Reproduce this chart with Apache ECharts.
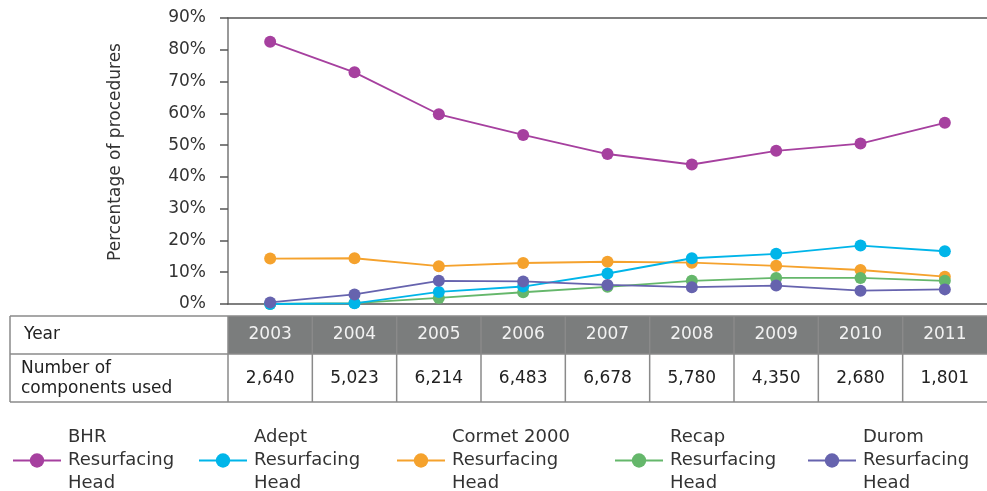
<!DOCTYPE html>
<html><head><meta charset="utf-8">
<script src="https://cdn.jsdelivr.net/npm/echarts@6/dist/echarts.min.js"></script>
<style>html,body{margin:0;padding:0;background:#fff}#c{width:987px;height:491px}</style>
</head><body><div id="c"></div>
<script>
const years = ['2003','2004','2005','2006','2007','2008','2009','2010','2011'];
const components = [2640, 5023, 6214, 6483, 6678, 5780, 4350, 2680, 1801];
const bhr    = [82.5, 72.9, 59.7, 53.2, 47.2, 43.9, 48.2, 50.5, 57.0];
const adept  = [0, 0.2, 3.8, 5.5, 9.6, 14.4, 15.8, 18.4, 16.6];
const cormet = [14.3, 14.4, 11.9, 12.9, 13.3, 13.0, 12.0, 10.7, 8.6];
const recap  = [0, 0.3, 1.9, 3.7, 5.4, 7.3, 8.2, 8.2, 7.3];
const durom  = [0.5, 3.0, 7.3, 7.1, 6.0, 5.3, 5.8, 4.2, 4.6];
const yTicks = [0, 10, 20, 30, 40, 50, 60, 70, 80, 90];
const names = ['BHR\nResurfacing\nHead','Adept\nResurfacing\nHead','Cormet 2000\nResurfacing\nHead','Recap\nResurfacing\nHead','Durom\nResurfacing\nHead'];
const colors = ['#a6409f','#00b5e9','#f5a22d','#65b76b','#6663ae'];
const seriesData = [bhr, adept, cormet, recap, durom];
const zs = [2, 5, 3, 4, 6];
const legendLeft = [12, 198, 396, 614, 807];

const FONT = '"DejaVu Sans", "Liberation Sans", Arial, sans-serif';
const chart = echarts.init(document.getElementById('c'), null, {renderer:'canvas'});

const option = {
  animation: false,
  backgroundColor: '#fff',
  textStyle: {fontFamily: FONT},
  grid: {left: 228, top: 18, width: 772, height: 286, containLabel: false},
  xAxis: [
    {type:'category', data: years, boundaryGap: true, position:'bottom',
     axisLine:{show:true, lineStyle:{color:'#555', width:1.5}},
     axisTick:{show:false}, axisLabel:{show:false}, splitLine:{show:false}},
    {type:'category', data: years, boundaryGap: true, position:'top',
     axisLine:{show:true, lineStyle:{color:'#555', width:1.5}},
     axisTick:{show:false}, axisLabel:{show:false}, splitLine:{show:false}}
  ],
  yAxis: {
    type:'value', min: yTicks[0], max: yTicks[yTicks.length-1], interval: 10,
    name: 'Percentage of procedures', nameLocation:'middle', nameGap: 104,
    nameTextStyle:{fontSize:17, color:'#333', fontFamily: FONT, padding:[0,0,0,18]},
    axisLine:{show:true, lineStyle:{color:'#777', width:1.5}},
    axisTick:{show:true, inside:false, length:8, lineStyle:{color:'#555', width:1.5}},
    axisLabel:{formatter: v => v + '%', fontSize:17, color:'#333', margin:22, fontFamily: FONT},
    splitLine:{show:false}
  },
  legend: legendLeft.map((l, i) => ({
    data: [names[i]], left: l, top: 426, orient:'horizontal',
    itemWidth: 48, itemHeight: 18, itemGap: 8, padding: 0,
    textStyle:{fontSize:18, color:'#333', lineHeight:23, fontFamily: FONT, padding:[0,0,0,2]}
  })),
  series: names.map((n, i) => ({
    name: n, type:'line', data: seriesData[i], z: zs[i],
    symbol:'circle', symbolSize: 12, showSymbol: true,
    lineStyle:{color: colors[i], width: 1.8},
    itemStyle:{color: colors[i]},
    emphasis:{disabled:true}
  }))
};
chart.setOption(option);

// Table under the chart, positioned from the category axis
const xs = years.map(y => chart.convertToPixel({xAxisIndex:0}, y));
const band = xs[1] - xs[0];
const tTop = 316, tMid = 354, tBot = 402, tLeft = 10, tRight = 987;
const g = [];
xs.forEach((x, i) => {
  g.push({type:'rect', shape:{x: x - band/2, y: tTop, width: band, height: tMid - tTop}, style:{fill:'#7b7d7d'}, z: 1});
});
const lineStyle = {stroke:'#8a8a8a', lineWidth:1.5};
[tTop, tMid, tBot].forEach(y => g.push({type:'line', shape:{x1:tLeft, y1:y, x2:tRight, y2:y}, style:lineStyle, z: 3}));
g.push({type:'line', shape:{x1:tLeft, y1:tTop, x2:tLeft, y2:tBot}, style:lineStyle, z:3});
xs.forEach((x) => {
  const bx = x - band/2;
  g.push({type:'line', shape:{x1:bx, y1:tTop, x2:bx, y2:tBot}, style:lineStyle, z:3});
});
xs.forEach((x, i) => {
  g.push({type:'text', x: x, y: (tTop + tMid)/2, style:{text: years[i], fill:'#f2f2f2', font:'17px ' + FONT, align:'center', verticalAlign:'middle'}, z:4});
  g.push({type:'text', x: x, y: (tMid + tBot)/2 + 1, style:{text: components[i].toLocaleString('en-US'), fill:'#222', font:'17px ' + FONT, align:'center', verticalAlign:'middle'}, z:4});
});
g.push({type:'text', x: 24, y: (tTop + tMid)/2, style:{text:'Year', fill:'#222', font:'17px ' + FONT, align:'left', verticalAlign:'middle'}, z:4});
g.push({type:'text', x: 21, y: (tMid + tBot)/2 + 1, style:{text:'Number of\ncomponents used', fill:'#222', font:'17px ' + FONT, align:'left', verticalAlign:'middle', lineHeight: 20}, z:4});
chart.setOption({graphic: g});
</script></body></html>
